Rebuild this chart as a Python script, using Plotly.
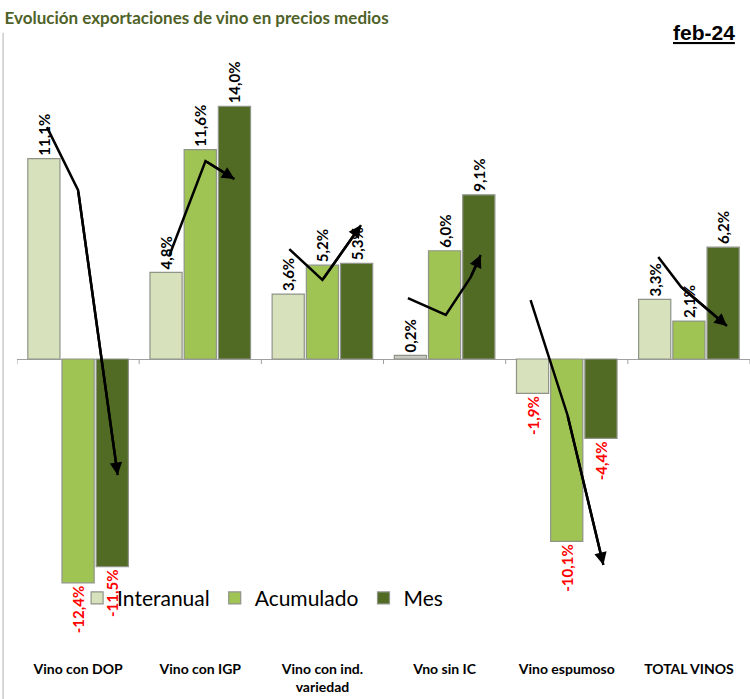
import plotly.graph_objects as go

categories = ["Vino con DOP", "Vino con IGP", "Vino con ind.<br>variedad", "Vno sin IC", "Vino espumoso", "TOTAL VINOS"]
interanual = [11.1, 4.8, 3.6, 0.2, -1.9, 3.3]
acumulado = [-12.4, 11.6, 5.2, 6.0, -10.1, 2.1]
mes = [-11.5, 14.0, 5.3, 9.1, -4.4, 6.2]
series_names = ["Interanual", "Acumulado", "Mes"]

# hand-drawn trend arrows (x as category index, y in %)
trend_x = [[-0.255, 0.0, 0.324], [0.749, 1.043, 1.28], [1.729, 2.0, 2.316],
           [2.7, 3.01, 3.214, 3.296], [3.704, 4.006, 4.3], [4.749, 4.937, 5.312]]
trend_y = [[12.85, 9.36, -6.43], [5.76, 10.97, 9.97], [6.09, 4.38, 7.42],
           [3.38, 2.44, 4.54, 5.76], [3.27, -3.1, -11.41], [5.65, 3.99, 1.83]]

colors = ["#d7e1bb", "#9fc453", "#516b24"]
idx = list(range(len(categories)))


def fmt(v):
    return f"{v:.1f}".replace(".", ",") + "%"


fig = go.Figure()
for name, vals, col in zip(series_names, [interanual, acumulado, mes], colors):
    bar_cols = [col if not (name == "Interanual" and abs(v) < 0.5) else "#c8c8c0" for v in vals]
    fig.add_trace(go.Bar(
        x=idx, y=vals, name=name,
        marker=dict(color=bar_cols, line=dict(color="#8f9489", width=1.2)),
        text=[fmt(v) for v in vals], textposition="outside", textangle=-90,
        constraintext="none",
        textfont=dict(family="Lato", size=15, weight="bold",
                      color=["#ff0000" if v < 0 else "#000000" for v in vals]),
        cliponaxis=False,
    ))

for tx, ty in zip(trend_x, trend_y):
    fig.add_trace(go.Scatter(x=tx, y=ty, mode="lines", line=dict(color="black", width=2.5),
                             showlegend=False, hoverinfo="skip"))
    fig.add_annotation(x=tx[-1], y=ty[-1], ax=tx[-2], ay=ty[-2], xref="x", yref="y",
                       axref="x", ayref="y", showarrow=True, arrowhead=2, arrowsize=1.0,
                       arrowwidth=2.5, arrowcolor="black", text="", standoff=0)

for i in idx + [len(idx)]:
    fig.add_shape(type="line", xref="x", yref="y", x0=i - 0.5, x1=i - 0.5,
                  ysizemode="pixel", yanchor=0, y0=0, y1=-5, line=dict(color="#a0a0a0", width=1))

fig.add_shape(type="line", xref="paper", yref="paper", x0=-0.019, x1=-0.019, y0=-0.08, y1=1.02,
              line=dict(color="#b0b0b0", width=1))

fig.add_annotation(xref="paper", yref="paper", x=0.982, y=1.021, xanchor="right", yanchor="middle",
                   text="<b><u>feb-24</u></b>", showarrow=False,
                   font=dict(family="Liberation Sans", size=21, color="black"))

fig.update_layout(
    width=750, height=699,
    margin=dict(l=17, r=0, t=45, b=44),
    plot_bgcolor="white", paper_bgcolor="white",
    barmode="group", bargap=0.16, bargroupgap=0.06,
    title=dict(text="<b>Evolución exportaciones de vino en precios medios</b>",
               x=0.006, xanchor="left", xref="container", y=0.983, yanchor="top", yref="container",
               font=dict(family="Lato", size=17, color="#4f6228")),
    legend=dict(orientation="h", x=0.082, y=0.093, xanchor="left", yanchor="middle",
                bgcolor="rgba(0,0,0,0)", font=dict(family="Lato", size=21, color="black"),
                itemwidth=30, traceorder="normal"),
    xaxis=dict(range=[-0.5, 5.5], tickvals=idx, ticktext=[f"<b>{c}</b>" for c in categories],
               showgrid=False, zeroline=False, showline=False, ticks="", ticklabelstandoff=4,
               tickfont=dict(family="Lato", size=14, color="black")),
    yaxis=dict(range=[-16.4, 17.4], showgrid=False, zeroline=True, zerolinecolor="#a0a0a0",
               zerolinewidth=1, showticklabels=False, showline=False),
)

fig.write_html("out.html", config={"displayModeBar": False},
               post_script="document.body.style.margin='0';")
